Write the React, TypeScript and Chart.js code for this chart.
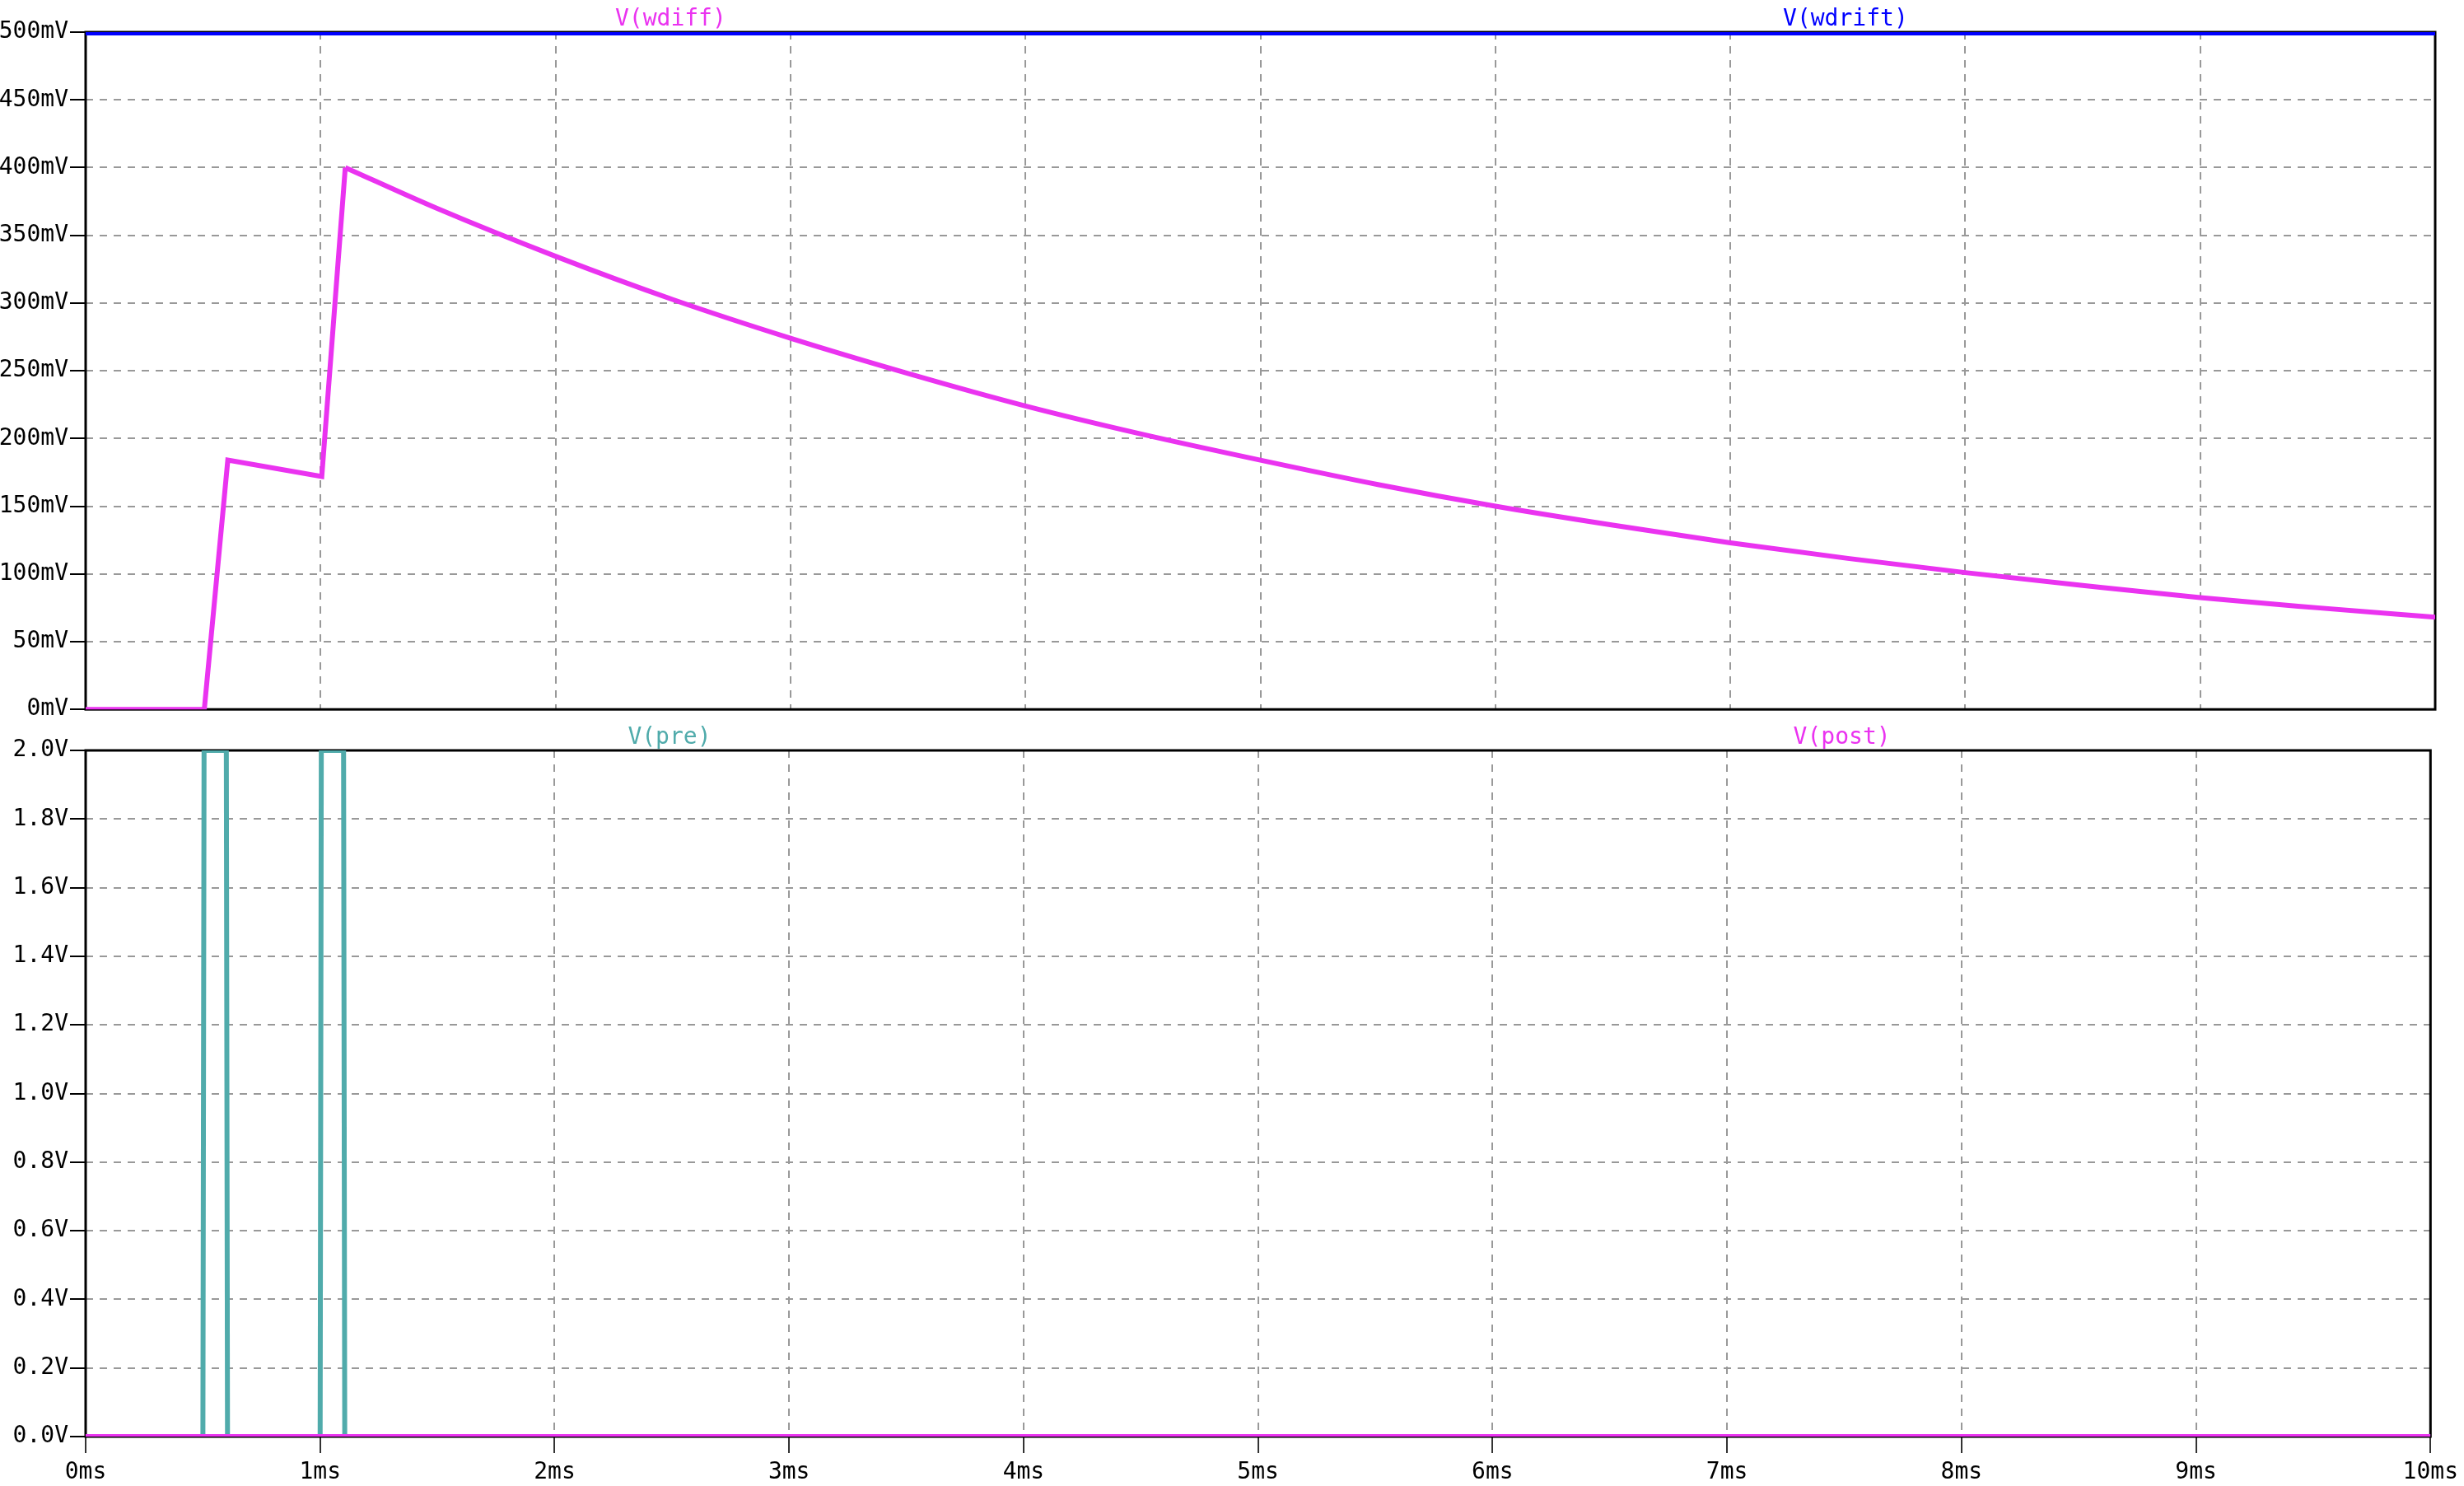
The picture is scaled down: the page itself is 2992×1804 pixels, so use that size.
import React, { useEffect, useRef } from "react";
import { Chart, registerables } from "chart.js";

Chart.register(...registerables);

const FONT = "'DejaVu Sans Mono', 'Liberation Mono', monospace";

// ---- tick values / labels ----
const timeTicks = [0, 1, 2, 3, 4, 5, 6, 7, 8, 9, 10];
const timeTickLabels = ["0ms", "1ms", "2ms", "3ms", "4ms", "5ms", "6ms", "7ms", "8ms", "9ms", "10ms"];
const mvTicks = [0, 50, 100, 150, 200, 250, 300, 350, 400, 450, 500];
const mvTickLabels = ["0mV", "50mV", "100mV", "150mV", "200mV", "250mV", "300mV", "350mV", "400mV", "450mV", "500mV"];
const vTicks = [0, 0.2, 0.4, 0.6, 0.8, 1.0, 1.2, 1.4, 1.6, 1.8, 2.0];
const vTickLabels = ["0.0V", "0.2V", "0.4V", "0.6V", "0.8V", "1.0V", "1.2V", "1.4V", "1.6V", "1.8V", "2.0V"];

// ---- series (time in ms) ----
const wdiffTime = [0, 0.505, 0.605, 1.005, 1.105, 1.5, 2, 2.5, 3, 3.5, 4, 4.5, 5, 5.5, 6, 6.5, 7, 7.5, 8, 8.5, 9, 9.5, 10];
const wdiffMv = [0, 0, 184, 172, 400, 369.5, 334.5, 302.5, 274, 248, 224, 203, 184, 166, 150, 136, 123, 111.5, 101, 91.5, 82.5, 75, 68];
const wdriftTime = [0, 10];
const wdriftMv = [500, 500];
const preTime = [0, 0.5, 0.505, 0.6, 0.605, 1.0, 1.005, 1.1, 1.105, 10];
const preV = [0, 0, 2, 2, 0, 0, 2, 2, 0, 0];
const postTime = [0, 10];
const postV = [0, 0];

const topNames = ["V(wdiff)", "V(wdrift)"];
const topColors = ["#ea33f0", "#0000ff"];
const bottomNames = ["V(pre)", "V(post)"];
const bottomColors = ["#50abab", "#ea33f0"];

const toPts = (xs: number[], ys: number[]) => xs.map((x, i) => ({ x, y: ys[i] }));

const GRID = "#999999";
const DASH = [9, 8];
const FS = 28;
const FW = "normal";

function framePlugin(names: string[], colors: string[]) {
  return {
    id: "frameAndNames",
    beforeDatasetsDraw(chart: any) {
      const { ctx, chartArea: a } = chart;
      ctx.save();
      ctx.strokeStyle = "#000";
      ctx.lineWidth = 3;
      ctx.strokeRect(a.left, a.top, a.right - a.left, a.bottom - a.top);
      ctx.restore();
    },
    afterDraw(chart: any) {
      const { ctx, chartArea: a } = chart;
      ctx.save();
      ctx.font = `${FW} ${FS}px ${FONT}`;
      ctx.textAlign = "center";
      ctx.textBaseline = "middle";
      names.forEach((n, i) => {
        ctx.fillStyle = colors[i];
        ctx.fillText(n, a.left + (a.right - a.left) * (0.249 + 0.5 * i), a.top - 15);
      });
      ctx.restore();
    },
  };
}

function yScale(min: number, max: number, ticks: number[], labels: string[]) {
  return {
    type: "linear",
    min,
    max,
    afterBuildTicks: (s: any) => {
      s.ticks = ticks.map((v) => ({ value: v }));
    },
    afterFit: (s: any) => {
      s.width = 104;
    },
    ticks: {
      callback: (_v: any, i: number) => labels[i],
      font: { family: FONT, size: FS, weight: FW },
      color: "#000",
      padding: 2,
      autoSkip: false,
    },
    grid: {
      color: GRID,
      lineWidth: 2,
      drawTicks: true,
      tickLength: 19,
      tickColor: "#000",
      tickWidth: 2,
    },
    border: { display: false, dash: DASH },
  };
}

function xScale(showLabels: boolean) {
  return {
    type: "linear",
    min: 0,
    max: 10,
    afterBuildTicks: (s: any) => {
      s.ticks = timeTicks.map((v) => ({ value: v }));
    },
    afterFit: (s: any) => {
      s.height = showLabels ? 60 : 0;
    },
    ticks: {
      display: showLabels,
      callback: (_v: any, i: number) => timeTickLabels[i],
      font: { family: FONT, size: FS, weight: FW },
      color: "#000",
      padding: 7,
      maxRotation: 0,
      autoSkip: false,
    },
    grid: {
      color: GRID,
      lineWidth: 2,
      drawTicks: showLabels,
      tickLength: 20,
      tickColor: "#333",
      tickWidth: 2,
    },
    border: { display: false, dash: DASH },
  };
}

function ds(pts: any[], color: string, width: number, smooth = false) {
  return {
    data: pts,
    borderColor: color,
    backgroundColor: color,
    borderWidth: width,
    pointRadius: 0,
    tension: 0,
    cubicInterpolationMode: smooth ? "monotone" : "default",
    fill: false,
    clip: 0,
    borderJoinStyle: "miter",
    borderCapStyle: "butt",
  };
}

export default function App() {
  const topRef = useRef<HTMLCanvasElement>(null);
  const botRef = useRef<HTMLCanvasElement>(null);

  useEffect(() => {
    const common = {
      responsive: false,
      animation: false,
      events: [],
      plugins: { legend: { display: false }, tooltip: { enabled: false } },
    };
    const wdiffPts = toPts(wdiffTime, wdiffMv);
    const top = new Chart(topRef.current as HTMLCanvasElement, {
      type: "line",
      data: {
        datasets: [
          ds(toPts(wdriftTime, wdriftMv), topColors[1], 8),
          // pulse-driven rise (sharp corners)
          ds(wdiffPts.slice(0, 5), topColors[0], 6),
          // smooth decay after the second pulse
          ds(wdiffPts.slice(4), topColors[0], 6, true),
        ],
      } as any,
      options: {
        ...common,
        layout: { autoPadding: false, padding: { left: 0, right: 35, top: 39, bottom: 9 } },
        scales: { x: xScale(false), y: yScale(0, 500, mvTicks, mvTickLabels) },
      } as any,
      plugins: [framePlugin(topNames, topColors)],
    });
    const bot = new Chart(botRef.current as HTMLCanvasElement, {
      type: "line",
      data: {
        datasets: [
          ds(toPts(postTime, postV), bottomColors[1], 6),
          ds(toPts(preTime, preV), bottomColors[0], 6),
        ],
      } as any,
      options: {
        ...common,
        layout: { autoPadding: false, padding: { left: 0, right: 35, top: 31, bottom: 0 } },
        scales: { x: xScale(true), y: yScale(0, 2, vTicks, vTickLabels) },
      } as any,
      plugins: [framePlugin(bottomNames, bottomColors)],
    });
    return () => {
      top.destroy();
      bot.destroy();
    };
  }, []);

  return (
    <div style={{ position: "absolute", left: 0, top: 0, width: 2992, height: 1804, background: "#fff" }}>
      <canvas
        ref={topRef}
        width={2992}
        height={880}
        style={{ position: "absolute", left: 0, top: 0, width: 2992, height: 880 }}
      />
      <canvas
        ref={botRef}
        width={2992}
        height={924}
        style={{ position: "absolute", left: 0, top: 880, width: 2992, height: 924 }}
      />
    </div>
  );
}
